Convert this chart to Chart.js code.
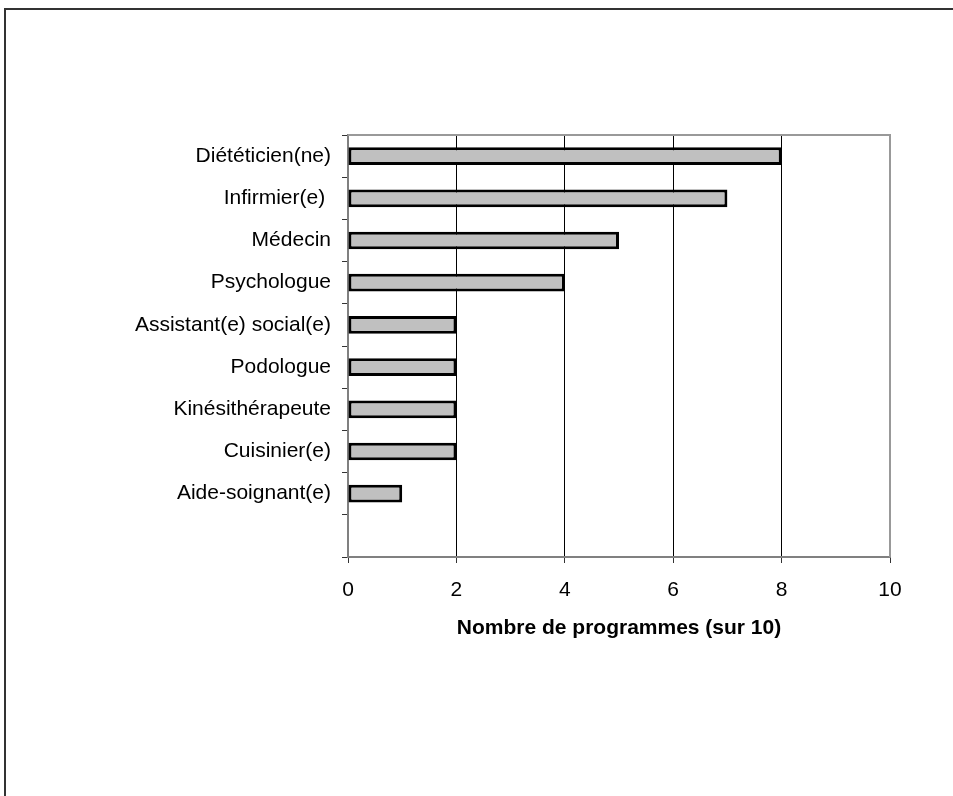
<!DOCTYPE html>
<html>
<head>
<meta charset="utf-8">
<script src="https://cdn.jsdelivr.net/npm/chart.js@4/dist/chart.umd.min.js"></script>
<style>
  html, body { margin: 0; padding: 0; background: #fff; }
  canvas { display: block; }
</style>
</head>
<body>
<canvas id="chart" width="953" height="796"></canvas>
<script>
// categories, top to bottom (last slot is empty in the original)
const professions = [
  'Diététicien(ne)', 'Infirmier(e) ', 'Médecin', 'Psychologue',
  'Assistant(e) social(e)', 'Podologue', 'Kinésithérapeute',
  'Cuisinier(e)', 'Aide-soignant(e)', ''
];
const programCounts = [8, 7, 5, 4, 2, 2, 2, 2, 1, null];
const xTicks = [0, 2, 4, 6, 8, 10];
const xTitle = 'Nombre de programmes (sur 10)';

const FONT = 'Arial, "Liberation Sans", sans-serif';

// outer page frame + top/right frame of the plot area
const framePlugin = {
  id: 'frame',
  beforeDraw(chart) {
    const ctx = chart.ctx;
    ctx.save();
    ctx.strokeStyle = '#333';
    ctx.lineWidth = 2;
    ctx.beginPath();
    ctx.moveTo(5, 796);
    ctx.lineTo(5, 9);
    ctx.lineTo(953, 9);
    ctx.stroke();
    ctx.restore();
  },
  beforeDatasetsDraw(chart) {
    const { ctx, chartArea: a } = chart;
    ctx.save();
    ctx.strokeStyle = '#999';
    ctx.lineWidth = 2;
    ctx.beginPath();
    ctx.moveTo(a.left, a.top);
    ctx.lineTo(a.right, a.top);
    ctx.lineTo(a.right, a.bottom);
    ctx.stroke();
    ctx.restore();
  }
};

new Chart(document.getElementById('chart'), {
  type: 'bar',
  data: {
    labels: professions,
    datasets: [{
      data: programCounts,
      backgroundColor: '#c0c0c0',
      borderColor: '#000',
      borderWidth: 3,
      borderSkipped: false,
      categoryPercentage: 1,
      barPercentage: 0.42
    }]
  },
  options: {
    indexAxis: 'y',
    responsive: false,
    animation: false,
    layout: { padding: { left: 0, right: 63, top: 135, bottom: 151 } },
    plugins: {
      legend: { display: false },
      tooltip: { enabled: false }
    },
    scales: {
      x: {
        min: 0,
        max: 10,
        afterBuildTicks: s => { s.ticks = xTicks.map(v => ({ value: v })); },
        afterFit: s => { s.height = 88; },
        grid: {
          color: c => (c.tick && (c.tick.value === 0 || c.tick.value === 10)) ? 'rgba(0,0,0,0)' : '#000',
          lineWidth: 1,
          tickColor: '#333',
          tickLength: 6
        },
        border: { color: '#808080', width: 2 },
        ticks: {
          color: '#000',
          font: { family: FONT, size: 21 },
          padding: 15,
          maxRotation: 0
        },
        title: {
          display: true,
          text: xTitle,
          color: '#000',
          font: { family: FONT, size: 21, weight: 'bold' },
          padding: { top: 0, bottom: 4 }
        }
      },
      y: {
        afterFit: s => { s.width = 348; },
        grid: {
          drawOnChartArea: false,
          tickColor: '#333',
          tickLength: 6
        },
        border: { color: '#808080', width: 2 },
        ticks: {
          color: '#000',
          font: { family: FONT, size: 21 },
          padding: 11,
          autoSkip: false
        }
      }
    }
  },
  plugins: [framePlugin]
});
</script>
</body>
</html>
